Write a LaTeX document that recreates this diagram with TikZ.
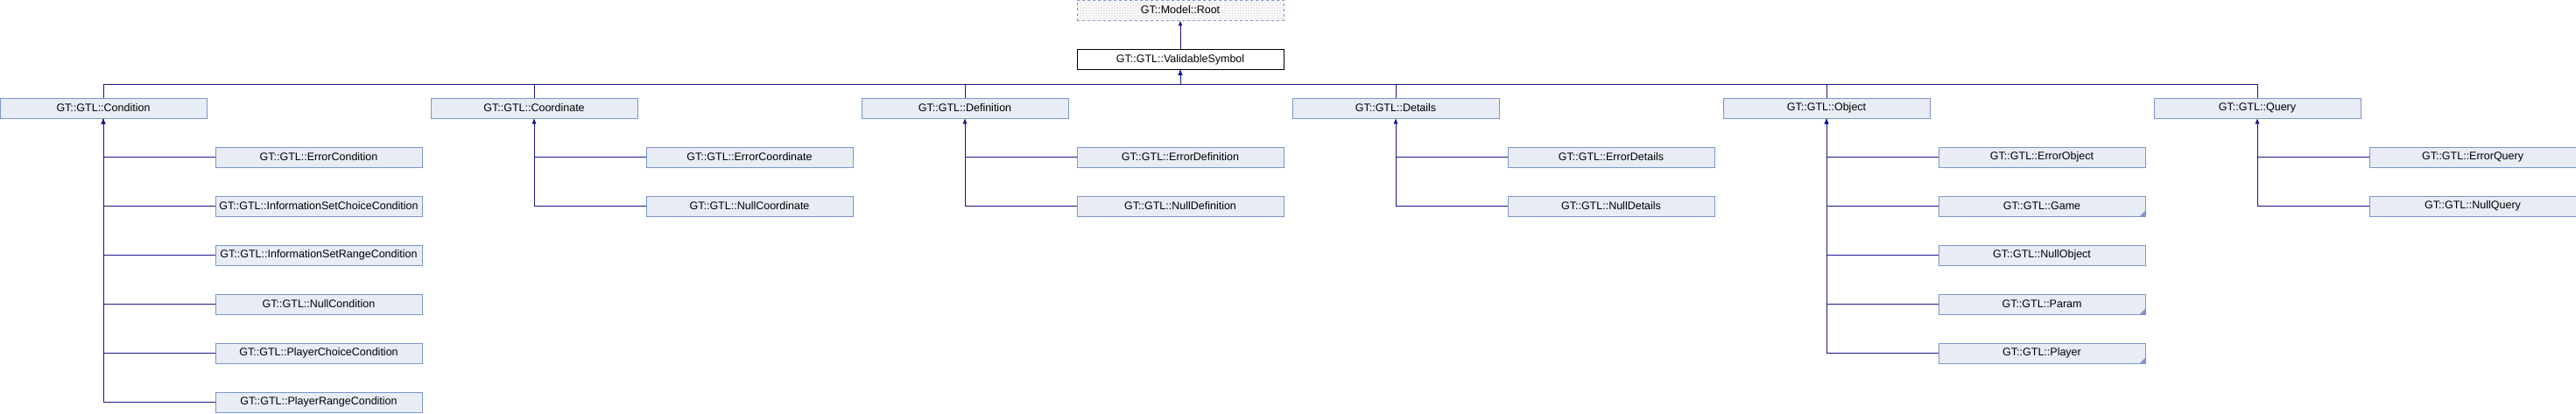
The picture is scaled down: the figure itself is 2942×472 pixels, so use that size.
\documentclass[tikz,border=0pt]{standalone}
\usepackage{fontspec}
\setmainfont{Liberation Sans}
\usetikzlibrary{arrows.meta,patterns}
\definecolor{boxfill}{RGB}{232,236,245}
\definecolor{boxline}{RGB}{124,150,204}
\definecolor{edgeblue}{RGB}{25,25,140}
\tikzstyle{cls}=[draw=boxline,fill=boxfill,minimum width=236pt,minimum height=23pt,inner sep=0pt,line width=0.8pt,font=\fontsize{12.5}{14}\selectfont]
\tikzstyle{rootcls}=[cls,dashed,fill=none,pattern=north east lines,pattern color=black!18]
\tikzstyle{selcls}=[cls,draw=black,fill=white]
\tikzstyle{inh}=[draw=edgeblue,line width=0.9pt,-{Latex[length=6pt,width=5pt]}]
\newcommand{\morekids}[1]{\fill[boxline] (#1.south east) -- ++(-7,0) -- ++(7,-7) -- cycle;}

\begin{document}
\begin{tikzpicture}[x=1pt,y=-1pt]
			\useasboundingbox (0,0) rectangle (2942,472);
			\node[rootcls] (root) at (1348,11.5) {GT::Model::Root};
			\node[selcls] (valid) at (1348,68) {GT::GTL::ValidableSymbol};
			\coordinate (bus) at (0,96);
			% parents
			\node[cls] (cond) at (118,123.5) {GT::GTL::Condition};
			\node[cls] (coord) at (610,123.5) {GT::GTL::Coordinate};
			\node[cls] (defn) at (1102,123.5) {GT::GTL::Definition};
			\node[cls] (det) at (1594,123.5) {GT::GTL::Details};
			\node[cls] (obj) at (2086,123.5) {GT::GTL::Object};
			\node[cls] (query) at (2578,123.5) {GT::GTL::Query};
			% children
			\node[cls] (cond1) at (364,179.5) {GT::GTL::ErrorCondition};
			\node[cls] (cond2) at (364,235.5) {GT::GTL::InformationSetChoiceCondition};
			\node[cls] (cond3) at (364,291.5) {GT::GTL::InformationSetRangeCondition};
			\node[cls] (cond4) at (364,347.5) {GT::GTL::NullCondition};
			\node[cls] (cond5) at (364,403.5) {GT::GTL::PlayerChoiceCondition};
			\node[cls] (cond6) at (364,459.5) {GT::GTL::PlayerRangeCondition};
			\node[cls] (coord1) at (856,179.5) {GT::GTL::ErrorCoordinate};
			\node[cls] (coord2) at (856,235.5) {GT::GTL::NullCoordinate};
			\node[cls] (defn1) at (1348,179.5) {GT::GTL::ErrorDefinition};
			\node[cls] (defn2) at (1348,235.5) {GT::GTL::NullDefinition};
			\node[cls] (det1) at (1840,179.5) {GT::GTL::ErrorDetails};
			\node[cls] (det2) at (1840,235.5) {GT::GTL::NullDetails};
			\node[cls] (obj1) at (2332,179.5) {GT::GTL::ErrorObject};
			\node[cls] (obj2) at (2332,235.5) {GT::GTL::Game};
			\node[cls] (obj3) at (2332,291.5) {GT::GTL::NullObject};
			\node[cls] (obj4) at (2332,347.5) {GT::GTL::Param};
			\node[cls] (obj5) at (2332,403.5) {GT::GTL::Player};
			\node[cls] (query1) at (2824,179.5) {GT::GTL::ErrorQuery};
			\node[cls] (query2) at (2824,235.5) {GT::GTL::NullQuery};
			\morekids{obj2}
			\morekids{obj4}
			\morekids{obj5}
			% inheritance edges
			\draw[inh] (valid.north) -- (root.south);
			\foreach \p in {cond,coord,defn,det,obj,query}
				\draw[inh] (\p.north) -- (\p.north |- bus) -| (valid.south);
			\foreach \c in {1,...,6}
				\draw[inh] (cond\c.west) -| (cond.south);
			\foreach \c in {1,...,5}
				\draw[inh] (obj\c.west) -| (obj.south);
			\foreach \p in {coord,defn,det,query}
				\foreach \c in {1,2}
					\draw[inh] (\p\c.west) -| (\p.south);
		\end{tikzpicture}
\end{document}
